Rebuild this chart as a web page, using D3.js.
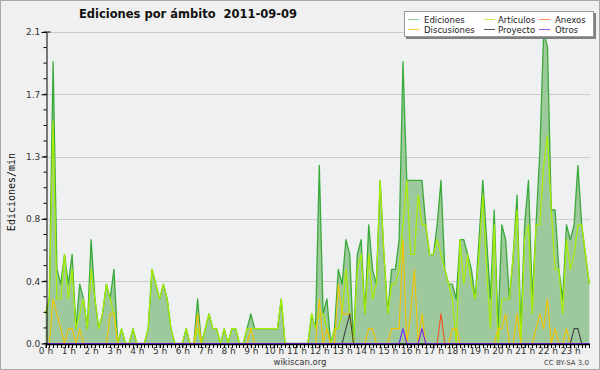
<!DOCTYPE html>
<html><head><meta charset="utf-8">
<script src="https://cdn.jsdelivr.net/npm/d3@7/dist/d3.min.js"></script>
<style>body{margin:0;background:#f0f0f0}svg{display:block}text{white-space:pre}</style>
</head><body><svg id="c" width="600" height="370"></svg>
<script>
// 10-minute bins, values in edits per minute (0:00 .. 23:50)
const ediciones = [
0.2,0.3,1.9,0.5,0.4,0.6,0.4,0.6,0.1,0.4,0.3,0.1,
0.7,0.3,0.1,0.2,0.4,0.3,0.5,0,0.1,0,0,0.1,
0,0,0,0.1,0.5,0.4,0.3,0.4,0.3,0.1,0,0,
0,0.1,0,0,0.3,0,0.1,0.2,0.1,0.1,0,0.1,
0,0.1,0.1,0,0,0.1,0.2,0.1,0.1,0.1,0.1,0.1,
0.1,0.1,0.3,0,0,0,0,0,0,0,0.2,0.1,
1.2,0.2,0.3,0,0.1,0.5,0.4,0.7,0.6,0,0.6,0.7,
0.2,0.8,0.5,0.4,1.1,0.6,0.2,0.5,0.5,0.7,1.9,1.1,
1.1,1.1,1.1,1.1,0.8,0.6,0.6,0.8,1.1,0.5,0.4,0.4,
0.3,0.7,0.7,0.6,0.5,0.3,0.7,1.1,0.7,0.3,0.9,0.1,
0.8,0.7,0.3,0.6,1.0,0.1,0.8,1.1,0.3,0.8,1.3,2.1,
2.0,0.9,0.9,0.5,0.3,0.8,0.7,0.8,1.2,0.8,0.6,0.4];
const articulos = [
0.2,0.3,1.5,0.3,0.3,0.6,0.3,0.5,0.1,0.2,0.3,0.1,
0.5,0.3,0.1,0.2,0.4,0.3,0.2,0,0.1,0,0,0.1,
0,0,0,0.1,0.5,0.4,0.3,0.4,0.3,0.1,0,0,
0,0.1,0,0,0.1,0,0.1,0.2,0.1,0.1,0,0.1,
0,0.1,0.1,0,0,0.1,0.1,0.1,0.1,0.1,0.1,0.1,
0.1,0.1,0.3,0,0,0,0,0,0,0,0.2,0.1,
0.2,0.2,0.1,0,0.1,0.1,0.2,0.5,0.2,0,0.5,0.6,
0.2,0.6,0.3,0.4,1.1,0.6,0.2,0.4,0.4,0.5,0.8,1.1,
0.6,0.6,1.0,0.8,0.8,0.6,0.6,0.7,0.6,0.5,0.4,0.3,
0,0.7,0.4,0.6,0.4,0.3,0.6,1.0,0.5,0.1,0.8,0,
0.3,0.3,0.3,0.6,0.9,0,0.7,0.8,0.2,0.8,0.8,1.2,
1.4,0.9,0.5,0.5,0.2,0.7,0.5,0.6,0.8,0.8,0.6,0.4];
const discusiones = [
0,0,0.3,0.2,0.1,0,0.1,0.1,0,0.1,0,0,
0,0,0,0,0,0.2,0.2,0,0,0,0,0,
0,0,0,0,0,0,0,0,0,0,0,0,
0,0,0,0,0.2,0,0,0,0,0,0,0,
0,0,0,0,0,0,0.1,0,0,0,0,0,
0,0,0,0,0,0,0,0,0,0,0,0,
0.3,0,0.1,0,0,0.4,0.2,0.2,0.2,0,0,0,
0,0.1,0.1,0,0,0,0,0.1,0.1,0.1,0.7,0,
0.2,0.5,0,0.2,0,0,0,0,0,0,0,0.1,
0.1,0,0,0,0,0,0,0,0,0,0,0.1,
0.1,0.2,0,0,0.2,0,0,0,0,0.1,0.2,0.1,
0.3,0,0.1,0,0,0.1,0,0,0,0,0,0];
const proyecto = [
0,0,0,0,0,0,0,0,0,0,0,0,
0,0,0,0,0,0,0,0,0,0,0,0,
0,0,0,0,0,0,0,0,0,0,0,0,
0,0,0,0,0,0,0,0,0,0,0,0,
0,0,0,0,0,0,0,0,0,0,0,0,
0,0,0,0,0,0,0,0,0,0,0,0,
0,0,0,0,0,0,0,0.1,0.2,0,0,0,
0,0,0,0,0,0,0,0,0,0,0,0,
0,0,0,0,0,0,0,0,0,0,0,0,
0,0,0,0,0,0,0,0,0,0,0,0,
0,0,0,0,0,0,0,0,0,0,0,0,
0,0,0,0,0,0,0,0.1,0.1,0,0,0];
const anexos = [
0,0,0,0,0,0,0,0,0,0,0,0,
0,0,0,0,0,0,0,0,0,0,0,0,
0,0,0,0,0,0,0,0,0,0,0,0,
0,0,0,0,0,0,0,0,0,0,0,0,
0,0,0,0,0,0,0,0,0,0,0,0,
0,0,0,0,0,0,0,0,0,0,0,0,
0,0,0,0,0,0,0,0,0,0,0,0,
0,0,0,0,0,0,0,0,0,0,0,0,
0,0,0,0,0,0,0,0,0.2,0,0,0,
0,0,0,0,0,0,0,0,0,0,0,0,
0,0,0,0,0,0,0,0,0,0,0,0,
0,0,0,0,0,0,0,0,0,0,0,0];
const otros = [
0,0,0,0,0,0,0,0,0,0,0,0,
0,0,0,0,0,0,0,0,0,0,0,0,
0,0,0,0,0,0,0,0,0,0,0,0,
0,0,0,0,0,0,0,0,0,0,0,0,
0,0,0,0,0,0,0,0,0,0,0,0,
0,0,0,0,0,0,0,0,0,0,0,0,
0,0,0,0,0,0,0,0,0,0,0,0,
0,0,0,0,0,0,0,0,0,0,0.1,0,
0,0,0,0.1,0,0,0,0,0,0,0,0,
0,0,0,0,0,0,0,0,0,0,0,0,
0,0,0,0,0,0,0,0,0,0,0,0,
0,0,0,0,0,0,0,0,0,0,0,0];
const hourLabels = ["0 h","1 h","2 h","3 h","4 h","5 h","6 h","7 h","8 h","9 h","10 h","11 h",
  "12 h","13 h","14 h","15 h","16 h","17 h","18 h","19 h","20 h","21 h","22 h","23 h"];
const yMax = 2.1;
const yTickValues = [0, 0.42, 0.84, 1.26, 1.68, 2.1];
const title = "Ediciones por ámbito  2011-09-09";
const legendItems = [
  {name:"Ediciones", color:"#88cc88"},
  {name:"Artículos", color:"#ccee55"},
  {name:"Anexos", color:"#ff8855"},
  {name:"Discusiones", color:"#ffcc44"},
  {name:"Proyecto", color:"#555555"},
  {name:"Otros", color:"#9955ee"}
];

const svg = d3.select("#c");
const W = 600, H = 370;
const x = d3.scaleLinear().domain([0, 143]).range([45.5, 589.3]);
const y = d3.scaleLinear().domain([0, yMax]).range([343.5, 32]);

svg.append("rect").attr("x",0.5).attr("y",0.5).attr("width",W-1).attr("height",H-1)
  .attr("fill","#f0f0f0").attr("stroke","#a8a8a8");
svg.append("rect").attr("x",46).attr("y",32).attr("width",544).attr("height",312).attr("fill","#eff0f2");

// grid
svg.append("g").selectAll("line").data(yTickValues.slice(1)).join("line")
  .attr("x1",46).attr("x2",590).attr("y1",d=>Math.round(y(d))+0.5).attr("y2",d=>Math.round(y(d))+0.5)
  .attr("stroke","#cccccc").attr("stroke-width",1);

const idx = d3.range(ediciones.length);
const area = d3.area().x(i=>x(i)).y0(y(0)).y1(i=>y(ediciones[i]));
svg.append("path").datum(idx).attr("d",area).attr("fill","#9dc99d");

function drawLine(arr, color, w){
  const ln = d3.line().x(i=>x(i)).y(i=>y(arr[i]));
  svg.append("path").datum(idx).attr("d",ln).attr("fill","none")
    .attr("stroke",color).attr("stroke-width",w).attr("stroke-linejoin","round");
}
drawLine(ediciones,"#3aaa3a",1.3);
drawLine(articulos,"#aaee00",1.2);
drawLine(discusiones,"#f5c400",1.1);
drawLine(anexos,"#ee5522",1.1);
drawLine(proyecto,"#444444",1.1);
drawLine(otros,"#7722ee",1.1);

// y axis
const yAxis = d3.axisLeft(y).tickValues(yTickValues).tickFormat(d3.format(".1f")).tickSize(5).tickSizeOuter(0);
const gy = svg.append("g").attr("transform","translate(46.5,0)").call(yAxis);
gy.selectAll("text").attr("font-family","DejaVu Sans").attr("font-size",9).attr("fill","#333").attr("dx","0.2em");
const yMinor = d3.range(0, 21).map(k => k*yMax/20);
gy.append("g").selectAll("line").data(yMinor).join("line")
  .attr("x1",-3).attr("x2",0).attr("y1",d=>y(d)).attr("y2",d=>y(d)).attr("stroke","#000");
gy.select(".domain").attr("stroke","#000");
gy.append("line").attr("x1",0).attr("x2",4).attr("y1",32).attr("y2",32).attr("stroke","#000");

// x axis
const xAxis = d3.axisBottom(x).tickValues(d3.range(0,144,6)).tickFormat((d,i)=>hourLabels[i])
  .tickSize(4).tickPadding(0).tickSizeOuter(0);
const gx = svg.append("g").attr("transform","translate(0,344)").call(xAxis);
gx.selectAll("text").attr("font-family","DejaVu Sans").attr("font-size",9).attr("fill","#333");
gx.select(".domain").attr("stroke","#000").attr("stroke-width",1.5);
gx.append("g").selectAll("line").data(idx).join("line")
  .attr("x1",i=>Math.round(x(i))+0.5).attr("x2",i=>Math.round(x(i))+0.5).attr("y1",0).attr("y2",4).attr("stroke","#000");

// titles
svg.append("text").attr("x",188).attr("y",18).attr("text-anchor","middle")
  .attr("font-family","DejaVu Sans").attr("font-weight","bold").attr("font-size",11.5).attr("fill","#111").text(title);
svg.append("text").attr("transform","translate(15,192) rotate(-90)").attr("text-anchor","middle")
  .attr("font-family","DejaVu Sans Mono").attr("font-size",10).attr("fill","#111").text("Ediciones/min");
svg.append("text").attr("x",300).attr("y",365).attr("text-anchor","middle")
  .attr("font-family","DejaVu Sans").attr("font-size",8.5).attr("fill","#333").text("wikiscan.org");
svg.append("text").attr("x",589).attr("y",365).attr("text-anchor","end")
  .attr("font-family","DejaVu Sans").attr("font-size",7).attr("fill","#444").text("CC BY-SA 3.0");

// legend
const lg = svg.append("g");
lg.append("rect").attr("x",406).attr("y",13).attr("width",190).attr("height",26).attr("fill","#808080");
lg.append("rect").attr("x",404.5).attr("y",11.5).attr("width",189).attr("height",25).attr("fill","#ffffff").attr("stroke","#999");
const colX = [408, 484, 539];
const textX = [424, 498, 555];
legendItems.forEach((it,k)=>{
  const c = k%3, r = Math.floor(k/3);
  const yy = 19.5 + r*10;
  lg.append("line").attr("x1",colX[c]).attr("x2",colX[c]+11).attr("y1",yy).attr("y2",yy)
    .attr("stroke",it.color).attr("stroke-width",1);
  lg.append("text").attr("x",textX[c]).attr("y",yy+3.5).attr("font-family","DejaVu Sans")
    .attr("font-stretch","condensed").attr("font-size",9.5).attr("fill","#222").text(it.name);
});
</script></body></html>
